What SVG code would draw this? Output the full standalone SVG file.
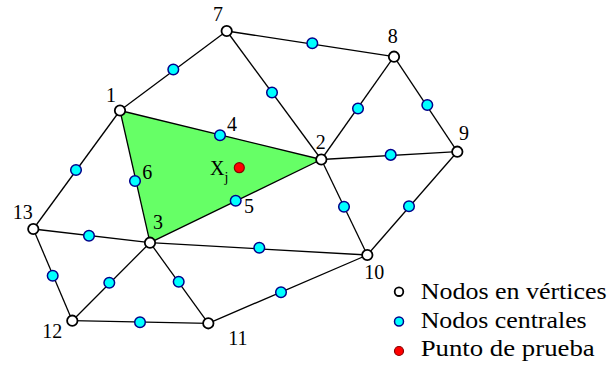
<svg xmlns="http://www.w3.org/2000/svg" width="608" height="367" viewBox="0 0 608 367">
<style>
.e{stroke:#000;stroke-width:1.3;fill:none}
.v{fill:#fff;stroke:#000;stroke-width:1.8}
.c{fill:#00ffff;stroke:#00008b;stroke-width:1.5}
.r{fill:#ff0000;stroke:#8b0000;stroke-width:1.2}
.l{font-size:20px;text-anchor:middle}
.g{font-size:22.5px}
</style>
<polygon points="120,110.5 321.3,159.5 150,242.7" fill="#66ff66" stroke="none"/>
<g id="connectors">
<line class="e" x1="120" y1="110.5" x2="226.7" y2="31"/>
<line class="e" x1="226.7" y1="31" x2="394" y2="56.7"/>
<line class="e" x1="226.7" y1="31" x2="321.3" y2="159.5"/>
<line class="e" x1="120" y1="110.5" x2="321.3" y2="159.5"/>
<line class="e" x1="120" y1="110.5" x2="150" y2="242.7"/>
<line class="e" x1="321.3" y1="159.5" x2="150" y2="242.7"/>
<line class="e" x1="120" y1="110.5" x2="33.3" y2="229"/>
<line class="e" x1="321.3" y1="159.5" x2="394" y2="56.7"/>
<line class="e" x1="394" y1="56.7" x2="457.3" y2="151.7"/>
<line class="e" x1="321.3" y1="159.5" x2="457.3" y2="151.7"/>
<line class="e" x1="321.3" y1="159.5" x2="367.3" y2="255"/>
<line class="e" x1="457.3" y1="151.7" x2="367.3" y2="255"/>
<line class="e" x1="33.3" y1="229" x2="150" y2="242.7"/>
<line class="e" x1="150" y1="242.7" x2="367.3" y2="255"/>
<line class="e" x1="33.3" y1="229" x2="72.3" y2="320.7"/>
<line class="e" x1="150" y1="242.7" x2="72.3" y2="320.7"/>
<line class="e" x1="150" y1="242.7" x2="208.3" y2="323.3"/>
<line class="e" x1="72.3" y1="320.7" x2="208.3" y2="323.3"/>
<line class="e" x1="208.3" y1="323.3" x2="367.3" y2="255"/>
</g>
<g id="central-nodes">
<circle class="c" cx="173.3" cy="69.5" r="5.3"/>
<circle class="c" cx="312.3" cy="43.3" r="5.3"/>
<circle class="c" cx="272" cy="92.5" r="5.3"/>
<circle class="c" cx="220" cy="135.3" r="5.3"/>
<circle class="c" cx="135" cy="181" r="5.3"/>
<circle class="c" cx="235.7" cy="200.7" r="5.3"/>
<circle class="c" cx="76" cy="170" r="5.3"/>
<circle class="c" cx="358" cy="108.5" r="5.3"/>
<circle class="c" cx="427.3" cy="105" r="5.3"/>
<circle class="c" cx="390.7" cy="154.9" r="5.3"/>
<circle class="c" cx="344" cy="206.7" r="5.3"/>
<circle class="c" cx="409" cy="206.3" r="5.3"/>
<circle class="c" cx="89" cy="235.7" r="5.3"/>
<circle class="c" cx="259.3" cy="247.7" r="5.3"/>
<circle class="c" cx="52.7" cy="275.7" r="5.3"/>
<circle class="c" cx="109.3" cy="282.7" r="5.3"/>
<circle class="c" cx="178.7" cy="281.7" r="5.3"/>
<circle class="c" cx="140" cy="322.3" r="5.3"/>
<circle class="c" cx="281" cy="292.2" r="5.3"/>
</g>
<g font-family="'Liberation Serif', 'DejaVu Serif', serif" fill="#000">
<g id="n1"><circle class="v" cx="120" cy="110.5" r="5.2"/><text class="l" x="111" y="102.3">1</text></g>
<g id="n2"><circle class="v" cx="321.3" cy="159.5" r="5.2"/><text class="l" x="320.7" y="149">2</text></g>
<g id="n3"><circle class="v" cx="150" cy="242.7" r="5.2"/><text class="l" x="158" y="229">3</text></g>
<g id="n4"><text class="l" x="232" y="131">4</text></g>
<g id="n5"><text class="l" x="249" y="213.3">5</text></g>
<g id="n6"><text class="l" x="147.3" y="179">6</text></g>
<g id="n7"><circle class="v" cx="226.7" cy="31" r="5.2"/><text class="l" x="218" y="20.7">7</text></g>
<g id="n8"><circle class="v" cx="394" cy="56.7" r="5.2"/><text class="l" x="392.7" y="43.3">8</text></g>
<g id="n9"><circle class="v" cx="457.3" cy="151.7" r="5.2"/><text class="l" x="464" y="140">9</text></g>
<g id="n10"><circle class="v" cx="367.3" cy="255" r="5.2"/><text class="l" x="374.3" y="279">10</text></g>
<g id="n11"><circle class="v" cx="208.3" cy="323.3" r="5.2"/><text class="l" x="238" y="345">11</text></g>
<g id="n12"><circle class="v" cx="72.3" cy="320.7" r="5.2"/><text class="l" x="52.3" y="338">12</text></g>
<g id="n13"><circle class="v" cx="33.3" cy="229" r="5.2"/><text class="l" x="22.7" y="219">13</text></g>
<g id="xj"><circle class="r" cx="239.3" cy="167.7" r="5"/><text x="210" y="175" font-size="20">X<tspan font-size="14" dy="6.5">j</tspan></text></g>
<g id="legend">
<circle class="v" cx="399" cy="291.7" r="4.3"/>
<text class="g" x="420.7" y="299" textLength="186" lengthAdjust="spacingAndGlyphs">Nodos en vértices</text>
<circle class="c" cx="399" cy="321.5" r="4.5"/>
<text class="g" x="420.7" y="328.3" textLength="166" lengthAdjust="spacingAndGlyphs">Nodos centrales</text>
<circle class="r" cx="399" cy="351" r="4.5"/>
<text class="g" x="420.7" y="356" textLength="174" lengthAdjust="spacingAndGlyphs">Punto de prueba</text>
</g>
</g>
</svg>
